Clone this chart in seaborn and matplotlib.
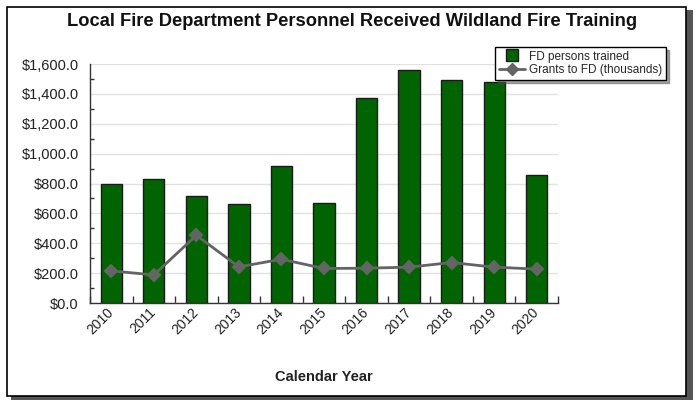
import numpy as np
import matplotlib.pyplot as plt
import seaborn as sns
from matplotlib.lines import Line2D
from matplotlib.patches import Rectangle
from matplotlib.ticker import FuncFormatter, MultipleLocator, FixedLocator

# Datos
years = ['2010', '2011', '2012', '2013', '2014', '2015',
         '2016', '2017', '2018', '2019', '2020']
persons_trained = [800, 828, 715, 662, 920, 669, 1373, 1562, 1493, 1478, 858]
grants = [215, 188, 453, 242, 293, 231, 233, 240, 271, 240, 227]

title = "Local Fire Department Personnel Received Wildland Fire Training"
xlabel = "Calendar Year"
lab_bars = "FD persons trained"
lab_line = "Grants to FD (thousands)"

verde = '#006400'
gris = '#646464'

sns.set_theme(style='white')
plt.rcParams['font.family'] = ['Liberation Sans', 'DejaVu Sans']

fig = plt.figure(figsize=(6.96, 4.01), dpi=100)
ax = fig.add_axes([90/696, 1-303/401, 468/696, 239/401])

# Marco con sombra (detrás de los ejes)
fig.patches.append(Rectangle((11/696, 1/401), 682/696, 390/401,
                             transform=fig.transFigure, facecolor='#555555',
                             edgecolor='none', zorder=-3))
fig.patches.append(Rectangle((7/696, 1-396/401), 679/696, 389/401,
                             transform=fig.transFigure, facecolor='white',
                             edgecolor='black', linewidth=1.2, zorder=-2))

sns.barplot(x=years, y=persons_trained, ax=ax, color=verde, saturation=1,
            width=0.5, edgecolor='#1a1a1a', linewidth=1, zorder=2)
sns.pointplot(x=years, y=grants, ax=ax, color=gris, markers='D',
              markersize=6.5, linewidth=2, zorder=3)

ax.set_ylim(0, 1600)
ax.set_xlim(-0.5, len(years) - 0.5)
ax.yaxis.set_major_locator(MultipleLocator(200))
ax.yaxis.set_minor_locator(MultipleLocator(100))
ax.yaxis.set_major_formatter(FuncFormatter(lambda v, p: f"${v:,.1f}"))
ax.xaxis.set_minor_locator(FixedLocator(np.arange(-0.5, len(years), 1)))
ax.grid(axis='y', which='major', color='#e2e2e2', linewidth=1)
ax.set_axisbelow(True)
ax.patch.set_alpha(0)

ax.tick_params(axis='y', which='major', direction='in', length=5, width=1,
               color='#333333', labelsize=10.5, labelcolor='#222222', pad=8)
ax.tick_params(axis='y', which='minor', direction='in', length=3, width=1,
               color='#333333', left=True)
ax.tick_params(axis='x', which='major', length=0, labelsize=10,
               labelcolor='#222222', pad=5)
ax.tick_params(axis='x', which='minor', direction='in', length=5, width=1,
               color='#333333', bottom=True)
for lbl in ax.get_xticklabels():
    lbl.set_rotation(45)
    lbl.set_ha('right')
    lbl.set_va('center')
    lbl.set_rotation_mode('anchor')

for s in ['top', 'right']:
    ax.spines[s].set_visible(False)
for s in ['left', 'bottom']:
    ax.spines[s].set_color('#333333')
    ax.spines[s].set_linewidth(1)

ax.set_xlabel(xlabel, fontsize=10.5, fontweight='bold', color='#222222',
              labelpad=24)
ax.set_ylabel('')
fig.text(352/696, 1-22/401, title, ha='center', va='center', fontsize=13.2,
         fontweight='bold', color='#111111')

handles = [Line2D([0], [0], linestyle='none', marker='s', markersize=8.5,
                  markerfacecolor=verde, markeredgecolor='#1a1a1a'),
           Line2D([0], [0], color=gris, marker='D', markersize=6, linewidth=2)]
leg = ax.legend(handles, [lab_bars, lab_line], loc='upper left',
                bbox_to_anchor=(495/696, 1-47/401), bbox_transform=fig.transFigure,
                fontsize=8.5, frameon=True, fancybox=False, shadow=True,
                borderpad=0.3, labelspacing=0.15, handlelength=2.2,
                handletextpad=0.4, borderaxespad=0)
leg.get_frame().set_edgecolor('black')
leg.get_frame().set_linewidth(1)

fig.savefig('out.png', dpi=100)
